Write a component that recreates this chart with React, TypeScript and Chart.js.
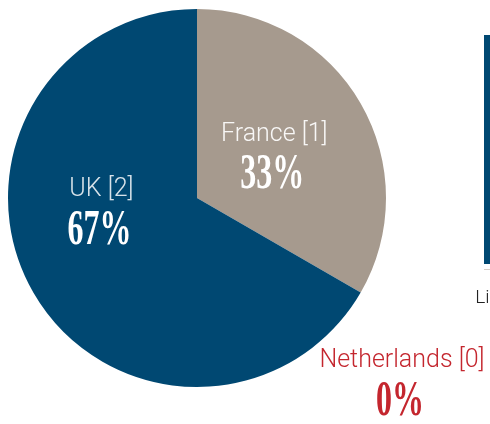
import React, { useEffect, useRef } from "react";
import { Chart, registerables } from "chart.js";

Chart.register(...registerables);

// ---- data ----
const countries = ["France", "Netherlands", "UK"];
const counts = [1, 0, 2];
const sliceColors = ["#A69A8E", "#C4262E", "#004872"];
const nameColors = ["rgba(255,255,255,0.92)", "#C4262E", "rgba(255,255,255,0.85)"];
const pctColors = ["#FFFFFF", "#C4262E", "#FFFFFF"];
// label placement: angle shift (deg) from slice mid-angle and radius factor
const labelAngleShift = [0, 12, 23];
const labelRadiusFactor = [0.46, 1.445, 0.52];

const barCategories = ["Listed"];
const barValues = [3];

const pieLabelPlugin = {
  id: "pieLabels",
  afterDatasetsDraw(chart: any) {
    const { ctx } = chart;
    const meta = chart.getDatasetMeta(0);
    const data = chart.data.datasets[0].data as number[];
    const total = data.reduce((a, b) => a + b, 0);
    meta.data.forEach((arc: any, i: number) => {
      const { x, y, startAngle, endAngle, outerRadius } = arc.getProps(
        ["x", "y", "startAngle", "endAngle", "outerRadius"],
        true
      );
      const mid = (startAngle + endAngle) / 2 + (labelAngleShift[i] * Math.PI) / 180;
      const r = outerRadius * labelRadiusFactor[i];
      const ax = x + Math.cos(mid) * r;
      const ay = y + Math.sin(mid) * r;
      const name = `${chart.data.labels[i]} [${data[i]}]`;
      const pct = `${Math.round((data[i] / total) * 100)}%`;
      ctx.save();
      ctx.textAlign = "center";
      ctx.textBaseline = "middle";
      ctx.font = "300 25px Roboto";
      ctx.fillStyle = nameColors[i];
      ctx.fillText(name, ax + 2, ay - 20);
      ctx.translate(ax, ay + 21);
      ctx.scale(0.64, 1);
      ctx.font = "bold 50px 'Liberation Serif'";
      ctx.fillStyle = pctColors[i];
      ctx.fillText(pct, 0, 0);
      ctx.restore();
    });
  },
};

export default function App() {
  const pieRef = useRef<HTMLCanvasElement>(null);
  const barRef = useRef<HTMLCanvasElement>(null);

  useEffect(() => {
    const pie = new Chart(pieRef.current!, {
      type: "pie",
      data: {
        labels: countries,
        datasets: [
          {
            data: counts,
            backgroundColor: sliceColors,
            borderWidth: 0,
          },
        ],
      },
      options: {
        responsive: false,
        animation: false,
        layout: { padding: { left: 8, top: 9, right: 104, bottom: 37 } },
        plugins: { legend: { display: false }, tooltip: { enabled: false } },
      },
      plugins: [pieLabelPlugin],
    });

    const bar = new Chart(barRef.current!, {
      type: "bar",
      data: {
        labels: barCategories,
        datasets: [
          {
            data: barValues,
            backgroundColor: "#004872",
            borderWidth: 0,
            barPercentage: 1,
            categoryPercentage: 1,
          },
        ],
      },
      options: {
        responsive: false,
        animation: false,
        layout: {
          padding: { left: 60, top: 35, right: 60, bottom: 96.7 },
        },
        plugins: { legend: { display: false }, tooltip: { enabled: false } },
        scales: {
          x: {
            grid: { display: false, drawTicks: false },
            border: { display: true, color: "#D6CEC6", width: 1 },
            ticks: {
              padding: 17.5,
              maxRotation: 0,
              minRotation: 0,
              autoSkip: false,
              color: "#222222",
              font: { family: "Roboto", size: 19, weight: 300 },
            },
          },
          y: {
            display: false,
            min: -0.075,
            max: 3,
          },
        },
      },
    });

    return () => {
      pie.destroy();
      bar.destroy();
    };
  }, []);

  return (
    <div
      style={{
        position: "fixed",
        left: 0,
        top: 0,
        width: 490,
        height: 424,
        overflow: "hidden",
        background: "#ffffff",
      }}
    >
      <canvas
        ref={pieRef}
        width={490}
        height={424}
        style={{ position: "absolute", left: 0, top: 0, width: 490, height: 424 }}
      />
      <canvas
        ref={barRef}
        width={153}
        height={424}
        style={{ position: "absolute", left: 424, top: 0, width: 153, height: 424 }}
      />
    </div>
  );
}
